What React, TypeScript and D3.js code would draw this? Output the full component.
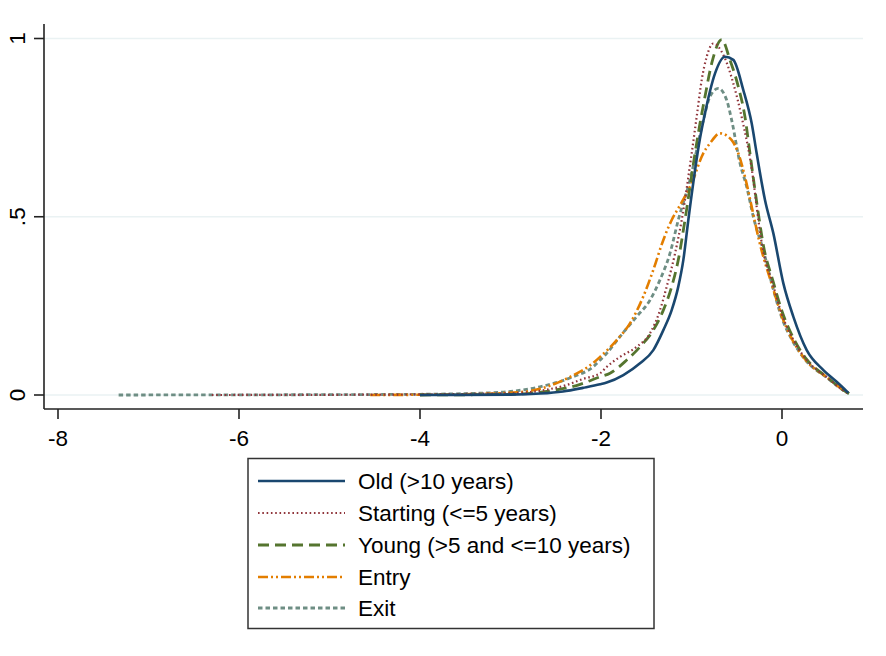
import React from "react";
import * as d3 from "d3";

type Pt = [number, number];

const xTicks = [-8, -6, -4, -2, 0];
const yTicks = [0, 0.5, 1];
const yTickLabels = ["0", ".5", "1"];

const seriesNames = [
  "Old (>10 years)",
  "Starting (<=5 years)",
  "Young (>5 and <=10 years)",
  "Entry",
  "Exit",
];

const oldData: Pt[] = [
  [-4.0, 0], [-3.0, 0.001], [-2.67, 0.004], [-2.42, 0.01], [-2.2, 0.02], [-2.01, 0.03],
  [-1.937, 0.035], [-1.753, 0.056], [-1.569, 0.089], [-1.422, 0.126], [-1.311, 0.182],
  [-1.219, 0.238], [-1.146, 0.304], [-1.09, 0.379], [-1.035, 0.491], [-0.906, 0.72],
  [-0.851, 0.79], [-0.796, 0.852], [-0.74, 0.902], [-0.63, 0.949], [-0.538, 0.94],
  [-0.428, 0.856], [-0.335, 0.762], [-0.28, 0.678], [-0.188, 0.547], [-0.096, 0.454],
  [0.015, 0.313], [0.125, 0.22], [0.273, 0.126], [0.457, 0.07], [0.604, 0.037], [0.733, 0.006],
];

const startingData: Pt[] = [
  [-6.3, 0], [-4.5, 0.001], [-3.0, 0.005], [-2.6, 0.015], [-2.38, 0.028], [-2.2, 0.045],
  [-2.01, 0.061], [-1.937, 0.079], [-1.79, 0.107], [-1.606, 0.135], [-1.459, 0.173],
  [-1.348, 0.238], [-1.274, 0.304], [-1.182, 0.397], [-1.108, 0.491], [-0.998, 0.678],
  [-0.943, 0.78], [-0.887, 0.884], [-0.832, 0.949], [-0.759, 0.986], [-0.648, 0.954],
  [-0.538, 0.874], [-0.446, 0.78], [-0.317, 0.603], [-0.28, 0.528], [-0.22, 0.42],
  [-0.1, 0.31], [0.0, 0.225], [0.125, 0.155], [0.273, 0.098], [0.494, 0.05],
  [0.677, 0.013], [0.74, 0.003],
];

const youngData: Pt[] = [
  [-4.0, 0], [-3.0, 0.002], [-2.6, 0.01], [-2.23, 0.03], [-2.01, 0.051], [-1.9, 0.061],
  [-1.716, 0.098], [-1.569, 0.135], [-1.422, 0.182], [-1.311, 0.238], [-1.219, 0.304],
  [-1.146, 0.379], [-1.072, 0.491], [-0.961, 0.678], [-0.906, 0.762], [-0.851, 0.837],
  [-0.777, 0.93], [-0.666, 0.997], [-0.575, 0.94], [-0.483, 0.865], [-0.409, 0.78],
  [-0.354, 0.678], [-0.262, 0.51], [-0.206, 0.42], [-0.1, 0.32], [0.0, 0.235],
  [0.125, 0.16], [0.273, 0.1], [0.494, 0.051], [0.677, 0.014], [0.74, 0.004],
];

const entryData: Pt[] = [
  [-4.55, 0], [-3.5, 0.002], [-2.86, 0.009], [-2.6, 0.023], [-2.34, 0.051], [-2.09, 0.089],
  [-2.01, 0.107], [-1.826, 0.154], [-1.68, 0.201], [-1.533, 0.276], [-1.422, 0.351],
  [-1.311, 0.435], [-1.219, 0.491], [-1.127, 0.532], [-0.998, 0.594], [-0.87, 0.678],
  [-0.796, 0.706], [-0.685, 0.734], [-0.556, 0.715], [-0.483, 0.678], [-0.409, 0.612],
  [-0.335, 0.528], [-0.25, 0.43], [-0.1, 0.3], [0.0, 0.22], [0.125, 0.15], [0.273, 0.095],
  [0.494, 0.05], [0.677, 0.014], [0.74, 0.004],
];

const exitData: Pt[] = [
  [-7.33, 0], [-5.0, 0.001], [-4.0, 0.002], [-3.34, 0.005], [-3.04, 0.009], [-2.674, 0.023],
  [-2.31, 0.051], [-2.088, 0.079], [-2.01, 0.098], [-1.937, 0.117], [-1.79, 0.164],
  [-1.606, 0.22], [-1.459, 0.266], [-1.348, 0.323], [-1.238, 0.397], [-1.146, 0.491],
  [-1.017, 0.603], [-0.869, 0.771], [-0.796, 0.837], [-0.703, 0.86], [-0.611, 0.827],
  [-0.556, 0.771], [-0.464, 0.65], [-0.39, 0.584], [-0.317, 0.5], [-0.2, 0.4], [-0.1, 0.3],
  [0.0, 0.215], [0.125, 0.148], [0.273, 0.094], [0.494, 0.049], [0.677, 0.013], [0.74, 0.004],
];

const seriesData = [oldData, startingData, youngData, entryData, exitData];
const colors = ["#1a476f", "#90353b", "#55752f", "#e37e00", "#6e8e84"];
const dashes = ["", "1.6 2.7", "11 6", "10 3 2 3 2 3", "4.5 3"];
const widths = [2.6, 2.2, 2.8, 2.6, 2.8];

const FONT = "'Liberation Sans', Arial, Helvetica, sans-serif";
const FS = 22.5;

export default function App() {
  const W = 886, H = 656;
  const x = d3.scaleLinear().domain([-8, 0]).range([58, 782]);
  const y = d3.scaleLinear().domain([0, 1]).range([395, 38.5]);
  const line = d3
    .line<Pt>()
    .x((d) => x(d[0]))
    .y((d) => y(d[1]))
    .curve(d3.curveMonotoneX);

  const axisLeft = 44;
  const axisBottom = 409;
  const plotRight = 863;

  const legendRows = [481, 513, 545, 577, 608];

  return (
    <svg width={W} height={H} style={{ position: "absolute", left: 0, top: 0, background: "#fff" }}>
      <rect x={0} y={0} width={W} height={H} fill="#fff" />
      {yTicks.map((t) => (
        <line key={"g" + t} x1={axisLeft} x2={plotRight} y1={y(t)} y2={y(t)} stroke="#eaf2f3" strokeWidth={1.6} />
      ))}
      {seriesData
        .map((d, i) => (
          <path
            key={"s" + i}
            d={line(d) || ""}
            fill="none"
            stroke={colors[i]}
            strokeWidth={widths[i]}
            strokeDasharray={dashes[i] || undefined}
            strokeLinejoin="round"
          />
        ))
        .reverse()}
      <line x1={axisLeft} x2={axisLeft} y1={24} y2={axisBottom} stroke="#222" strokeWidth={1.6} />
      <line x1={axisLeft} x2={plotRight} y1={axisBottom} y2={axisBottom} stroke="#222" strokeWidth={1.6} />
      {yTicks.map((t, i) => (
        <g key={"yt" + t}>
          <line x1={axisLeft - 10} x2={axisLeft} y1={y(t)} y2={y(t)} stroke="#222" strokeWidth={1.6} />
          <text
            transform={`translate(${25},${y(t)}) rotate(-90)`}
            textAnchor="middle"
            fontFamily={FONT}
            fontSize={FS}
            fill="#000"
          >
            {yTickLabels[i]}
          </text>
        </g>
      ))}
      {xTicks.map((t) => (
        <g key={"xt" + t}>
          <line x1={x(t)} x2={x(t)} y1={axisBottom} y2={axisBottom + 10} stroke="#222" strokeWidth={1.6} />
          <text x={x(t)} y={446} textAnchor="middle" fontFamily={FONT} fontSize={FS} fill="#000">
            {t < 0 ? "-" + Math.abs(t) : String(t)}
          </text>
        </g>
      ))}
      <rect x={248} y={458.5} width={406} height={170} fill="#fff" stroke="#333" strokeWidth={1.5} />
      {seriesNames.map((n, i) => (
        <g key={"l" + i}>
          <line
            x1={258}
            x2={345}
            y1={legendRows[i]}
            y2={legendRows[i]}
            stroke={colors[i]}
            strokeWidth={widths[i]}
            strokeDasharray={dashes[i] || undefined}
          />
          <text x={358} y={legendRows[i] + 8} fontFamily={FONT} fontSize={FS} fill="#000">
            {n}
          </text>
        </g>
      ))}
    </svg>
  );
}
